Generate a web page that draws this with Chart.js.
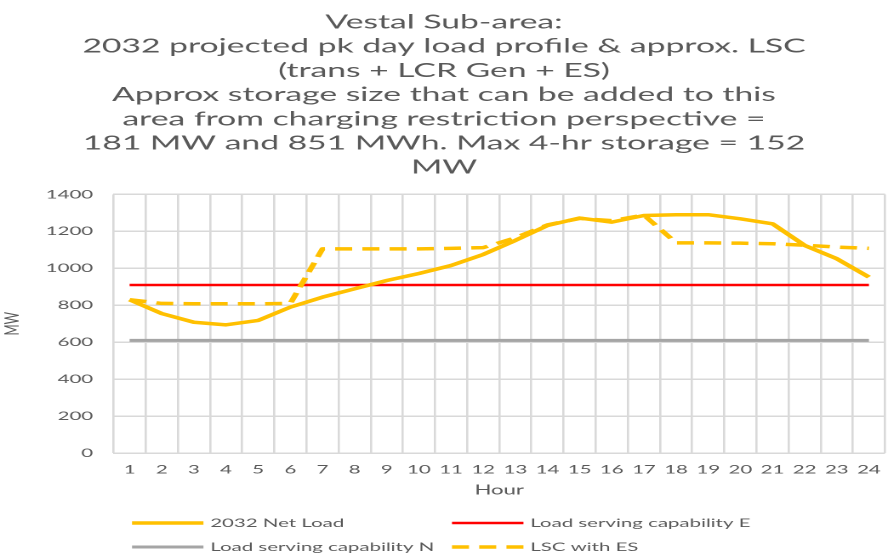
<!DOCTYPE html>
<html>
<head>
<meta charset="utf-8">
<script src="https://cdn.jsdelivr.net/npm/chart.js@4"></script>
<style>
  html, body { margin: 0; padding: 0; background: #fff; overflow: hidden; }
  /* chart is laid out narrow and stretched wide, like the exported slide */
  #wrap { width: 522px; height: 554px; transform: scaleX(1.7011); transform-origin: 0 0; }
</style>
</head>
<body>
<div id="wrap"><canvas id="perfil"></canvas></div>
<script>
// --- DATOS ---
const hours = ['1', '2', '3', '4', '5', '6', '7', '8', '9', '10', '11', '12',
               '13', '14', '15', '16', '17', '18', '19', '20', '21', '22', '23', '24'];

const netLoad = [830, 755, 708, 694, 718, 790, 844, 889, 934, 972, 1015, 1075,
                 1151, 1232, 1272, 1250, 1286, 1290, 1290, 1268, 1241, 1124, 1052, 952];

const lscE = [910, 910, 910, 910, 910, 910, 910, 910, 910, 910, 910, 910,
              910, 910, 910, 910, 910, 910, 910, 910, 910, 910, 910, 910];

const lscN = [610, 610, 610, 610, 610, 610, 610, 610, 610, 610, 610, 610,
              610, 610, 610, 610, 610, 610, 610, 610, 610, 610, 610, 610];

const lscES = [830, 810, 808, 808, 808, 810, 1105, 1105, 1105, 1105, 1108, 1112,
               1165, 1235, 1270, 1258, 1288, 1138, 1138, 1136, 1133, 1125, 1115, 1108];

const yTicks = [0, 200, 400, 600, 800, 1000, 1200, 1400];

const titleLines = [
    'Vestal Sub-area:',
    '2032 projected pk day load profile & approx. LSC',
    '(trans + LCR Gen + ES)',
    'Approx storage size that can be added to this',
    'area from charging restriction perspective =',
    '181 MW and 851 MWh. Max 4-hr storage = 152',
    'MW'
];

const TEXT = '#595959';
const GRID = '#d9d9d9';
const FONT = 'Lato, "Open Sans", sans-serif';

// Leyenda en dos columnas (estilo Excel)
const gridLegend = {
    id: 'gridLegend',
    afterDraw(chart, args, opts) {
        const ctx = chart.ctx;
        ctx.save();
        ctx.font = `12px ${FONT}`;
        ctx.fillStyle = TEXT;
        ctx.textBaseline = 'middle';
        chart.data.datasets.forEach((ds, i) => {
            const x = opts.cols[i % 2];
            const y = opts.rows[Math.floor(i / 2)];
            ctx.beginPath();
            ctx.strokeStyle = ds.borderColor;
            ctx.lineWidth = ds.borderWidth;
            ctx.setLineDash(ds.borderDash || []);
            ctx.moveTo(x, y);
            ctx.lineTo(x + opts.swatch, y);
            ctx.stroke();
            ctx.setLineDash([]);
            ctx.fillText(ds.label, x + opts.swatch + 4, y);
        });
        ctx.restore();
    }
};

const ctx = document.getElementById('perfil').getContext('2d');

new Chart(ctx, {
    type: 'line',
    data: {
        labels: hours,
        datasets: [
            {
                label: '2032 Net Load',
                data: netLoad,
                borderColor: '#ffc000',
                borderWidth: 3.5,
                order: 2
            },
            {
                label: 'Load serving capability E',
                data: lscE,
                borderColor: '#ff0000',
                borderWidth: 2.5,
                order: 3
            },
            {
                label: 'Load serving capability N',
                data: lscN,
                borderColor: '#a5a5a5',
                borderWidth: 3,
                order: 4
            },
            {
                label: 'LSC with ES',
                data: lscES,
                borderColor: '#ffc000',
                borderWidth: 3.5,
                borderDash: [10, 6],
                order: 1
            }
        ]
    },
    options: {
        responsive: true,
        maintainAspectRatio: false,
        devicePixelRatio: 2,
        animation: false,
        elements: {
            point: { radius: 0 },
            line: { tension: 0, borderJoinStyle: 'round', borderCapStyle: 'butt', fill: false }
        },
        layout: { padding: { left: 0, right: 0, top: 0, bottom: 57 } },
        plugins: {
            legend: { display: false },
            tooltip: { enabled: false },
            title: {
                display: true,
                text: titleLines,
                color: TEXT,
                font: { family: FONT, size: 19.8, weight: 'normal', lineHeight: '24.2px' },
                padding: { top: 10, bottom: 15 }
            },
            gridLegend: {
                cols: [77.6, 265.7],
                rows: [523, 547],
                swatch: 42
            }
        },
        scales: {
            x: {
                offset: true,
                // marcas invisibles: dan el espacio vertical sin reservar margen a la derecha
                grid: {
                    offset: true, color: GRID, lineWidth: 1.3,
                    drawTicks: true, tickLength: 7.5, tickColor: 'rgba(0,0,0,0)'
                },
                border: { display: false },
                ticks: {
                    color: TEXT, padding: 2, autoSkip: false, maxRotation: 0, minRotation: 0,
                    font: { family: FONT, size: 12 }
                },
                title: {
                    display: true,
                    text: 'Hour',
                    color: TEXT,
                    font: { family: FONT, size: 13, lineHeight: 1 },
                    padding: { top: 5, bottom: 0 }
                }
            },
            y: {
                min: 0,
                max: 1400,
                afterBuildTicks: (axis) => { axis.ticks = yTicks.map(v => ({ value: v })); },
                grid: { color: GRID, lineWidth: 1.5, drawTicks: false },
                border: { display: false },
                ticks: {
                    color: TEXT, padding: 12, font: { family: FONT, size: 12 },
                    callback: (value) => String(value)
                },
                title: {
                    display: true,
                    text: 'MW',
                    color: TEXT,
                    font: { family: FONT, size: 12 },
                    padding: { top: 0, bottom: 0.5 }
                }
            }
        }
    },
    plugins: [gridLegend]
});
</script>
</body>
</html>
